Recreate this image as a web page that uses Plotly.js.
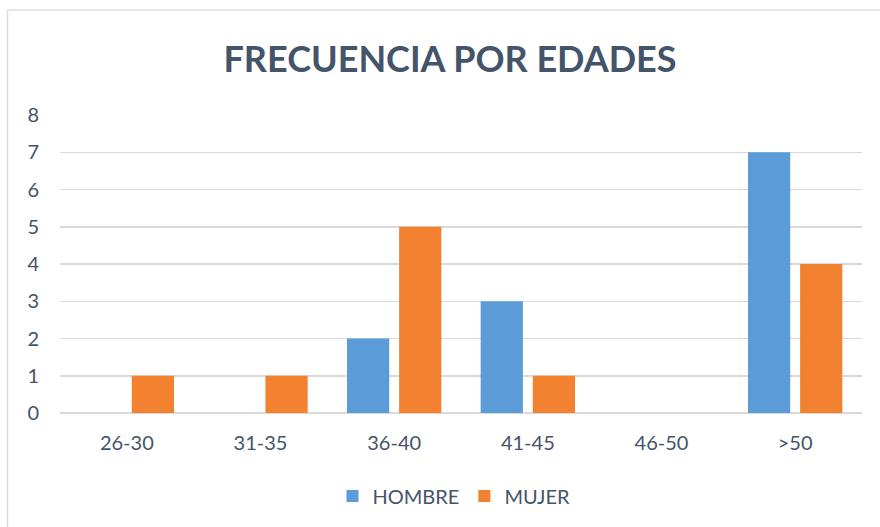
<!DOCTYPE html>
<html>
<head>
<meta charset="utf-8">
<script src="https://cdn.plot.ly/plotly-3.0.1.min.js"></script>
<style>
html,body{margin:0;padding:0;background:#fff;}
#chart{width:880px;height:527px;}
</style>
</head>
<body>
<div id="chart"></div>
<script>
const categories = ["26-30", "31-35", "36-40", "41-45", "46-50", ">50"];
const hombre = [0, 0, 2, 3, 0, 7];
const mujer = [1, 1, 5, 1, 0, 4];
const yTicks = [0, 1, 2, 3, 4, 5, 6, 7, 8];

const textColor = "#44546A";
const font = "Lato, 'Open Sans', 'Noto Sans', sans-serif";

const traces = [
  {type: "bar", name: "HOMBRE", x: categories, y: hombre,
   marker: {color: "#5A9BD8"}, hoverinfo: "x+y"},
  {type: "bar", name: "MUJER", x: categories, y: mujer,
   marker: {color: "#F2822F"}, hoverinfo: "x+y"}
];

const L = 60, R = 862, T = 115, B = 413;
const W = R - L, H = B - T;
const px = v => (v - L) / W;
const py = v => (B - v) / H;

const layout = {
  width: 880, height: 527,
  margin: {l: L, r: 880 - R, t: T, b: 527 - B},
  paper_bgcolor: "#fff", plot_bgcolor: "#fff",
  font: {family: font, color: textColor},
  title: {text: "<b>FRECUENCIA POR EDADES</b>", font: {size: 36, color: textColor, family: font},
          x: px(450), xanchor: "center", y: 1 - 59/527, yanchor: "middle", xref: "paper"},
  barmode: "group", bargap: 0.22, bargroupgap: 0.19,
  xaxis: {type: "category", showgrid: false, zeroline: false, showline: false,
          ticks: "", tickfont: {size: 20, color: textColor}, ticklabelstandoff: 16,
          fixedrange: true},
  yaxis: {range: [0, 8], tickvals: yTicks, ticktext: yTicks.map(String),
          showgrid: true, gridcolor: "#D9D9D9", gridwidth: 1.5,
          zeroline: true, zerolinecolor: "#D9D9D9", zerolinewidth: 1.5,
          showline: false, ticks: "", tickfont: {size: 20, color: textColor},
          ticklabelstandoff: 20, fixedrange: true},
  legend: {orientation: "h", x: px(454), xanchor: "center", y: py(496), yanchor: "middle",
           font: {size: 20, color: textColor}, itemwidth: 30, traceorder: "normal"},
  shapes: [
    {type: "line", xref: "paper", yref: "paper", x0: px(7.5), x1: px(7.5), y0: py(10), y1: py(540),
     line: {color: "#D9DDE3", width: 1.5}},
    {type: "line", xref: "paper", yref: "paper", x0: px(7.5), x1: px(885), y0: py(10), y1: py(10),
     line: {color: "#D9DDE3", width: 1.5}}
  ],
  showlegend: true
};

Plotly.newPlot("chart", traces, layout, {displayModeBar: false, staticPlot: true});
</script>
</body>
</html>
